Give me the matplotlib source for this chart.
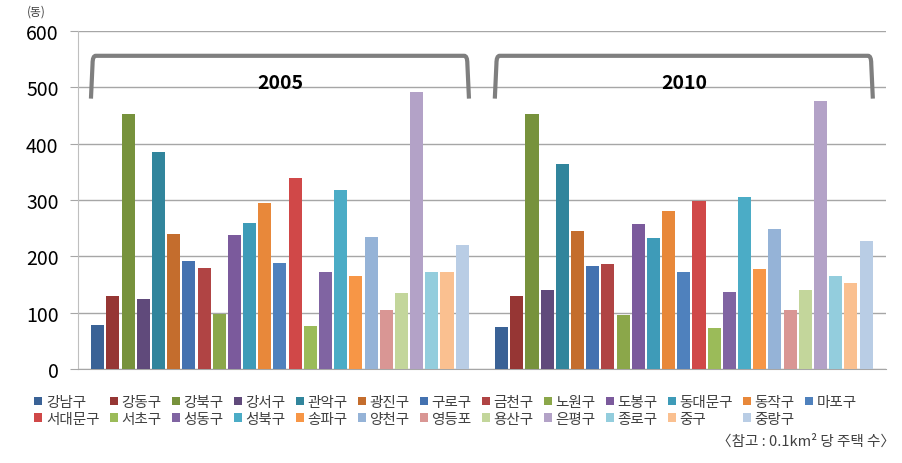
import numpy as np
import matplotlib
matplotlib.use("Agg")
import matplotlib.pyplot as plt
from matplotlib.path import Path
from matplotlib.patches import PathPatch, Patch

plt.rcParams["font.family"] = ["Noto Sans CJK KR", "DejaVu Sans"]

years = ["2005", "2010"]
districts = ["강남구", "강동구", "강북구", "강서구", "관악구", "광진구", "구로구",
             "금천구", "노원구", "도봉구", "동대문구", "동작구", "마포구",
             "서대문구", "서초구", "성동구", "성북구", "송파구", "양천구",
             "영등포", "용산구", "은평구", "종로구", "중구", "중랑구"]
v2005 = [78, 129, 453, 124, 386, 240, 192, 179, 98, 237, 260, 295, 188,
         339, 76, 172, 317, 165, 234, 105, 135, 491, 172, 172, 221]
v2010 = [74, 130, 453, 140, 364, 245, 183, 186, 96, 257, 233, 281, 173,
         298, 73, 137, 305, 178, 249, 104, 140, 475, 165, 153, 227]
colors = ["#3A6296", "#963634", "#77923C", "#604A7B", "#31859C", "#C46D2D",
          "#4472B0", "#B04444", "#8BA74A", "#7B5A9C", "#3E9BB8", "#E8883A",
          "#4F81BD", "#D04848", "#9BBB59", "#8064A2", "#4BACC6", "#F79646",
          "#95B3D7", "#D99694", "#C3D69B", "#B3A2C7", "#93CDDD", "#FAC090",
          "#B9CDE5"]

fig = plt.figure(figsize=(9.02, 4.64), dpi=100)
ax = fig.add_axes([0.0865, 0.2026, 0.8955, 0.7284])

n = len(districts)
group_w = 0.94
slot = group_w / n
x = np.arange(len(years))
for k in range(n):
    vals = [v2005[k], v2010[k]]
    ax.bar(x - group_w / 2 + slot * (k + 0.5), vals, width=slot * 0.86,
           color=colors[k], zorder=3, label=districts[k])

ax.set_xlim(-0.5, 1.5)
ax.set_ylim(0, 600)
ax.set_yticks(range(0, 601, 100))
ax.set_xticks([])
ax.yaxis.grid(True, color="#A6A6A6", lw=1, zorder=0)
for s in ["top", "right"]:
    ax.spines[s].set_visible(False)
ax.spines["left"].set_color("#BFBFBF")
ax.spines["bottom"].set_color("#A6A6A6")
ax.tick_params(axis="y", length=6, color="#A6A6A6", labelsize=14, pad=8,
               labelcolor="#000000")

# brackets over each year group
half = group_w / 2 - 0.002
rx, ry = 0.012, 14
for i, yr in enumerate(years):
    x0, x1 = i - half, i + half
    verts = [(x0, 480), (x0 + 0.004, 556 - ry), (x0 + 0.004, 556), (x0 + rx, 556),
             (x1 - rx, 556), (x1 - 0.004, 556), (x1 - 0.004, 556 - ry), (x1, 480)]
    codes = [Path.MOVETO, Path.LINETO, Path.CURVE3, Path.CURVE3,
             Path.LINETO, Path.CURVE3, Path.CURVE3, Path.LINETO]
    ax.add_patch(PathPatch(Path(verts, codes), fill=False, edgecolor="#7F7F7F",
                           lw=3, capstyle="butt", zorder=4))
    ax.text(i, 508, yr, ha="center", va="center", fontsize=14,
            fontweight="bold", zorder=5)

fig.text(0.04, 0.975, "(동)", fontsize=8.5, style="italic", ha="center",
         va="center", color="#404040")

# legend: row-major order (13 in first row, 12 in second)
order = []
for j in range(13):
    order.append(j)
    if j + 13 < n:
        order.append(j + 13)
handles = [Patch(facecolor=colors[k]) for k in order]
labels = [districts[k] for k in order]
leg = fig.legend(handles, labels, loc="center", bbox_to_anchor=(0.494, 0.113),
                 ncol=13, frameon=False, fontsize=10.5, handlelength=0.55,
                 handleheight=0.55, handletextpad=0.25, columnspacing=0.7,
                 labelspacing=0.2, labelcolor="#404040")

fig.text(0.992, 0.048, "〈참고 : 0.1km² 당 주택 수〉", fontsize=10.5,
         ha="right", va="center", color="#404040")

fig.savefig("out.png", dpi=100)
